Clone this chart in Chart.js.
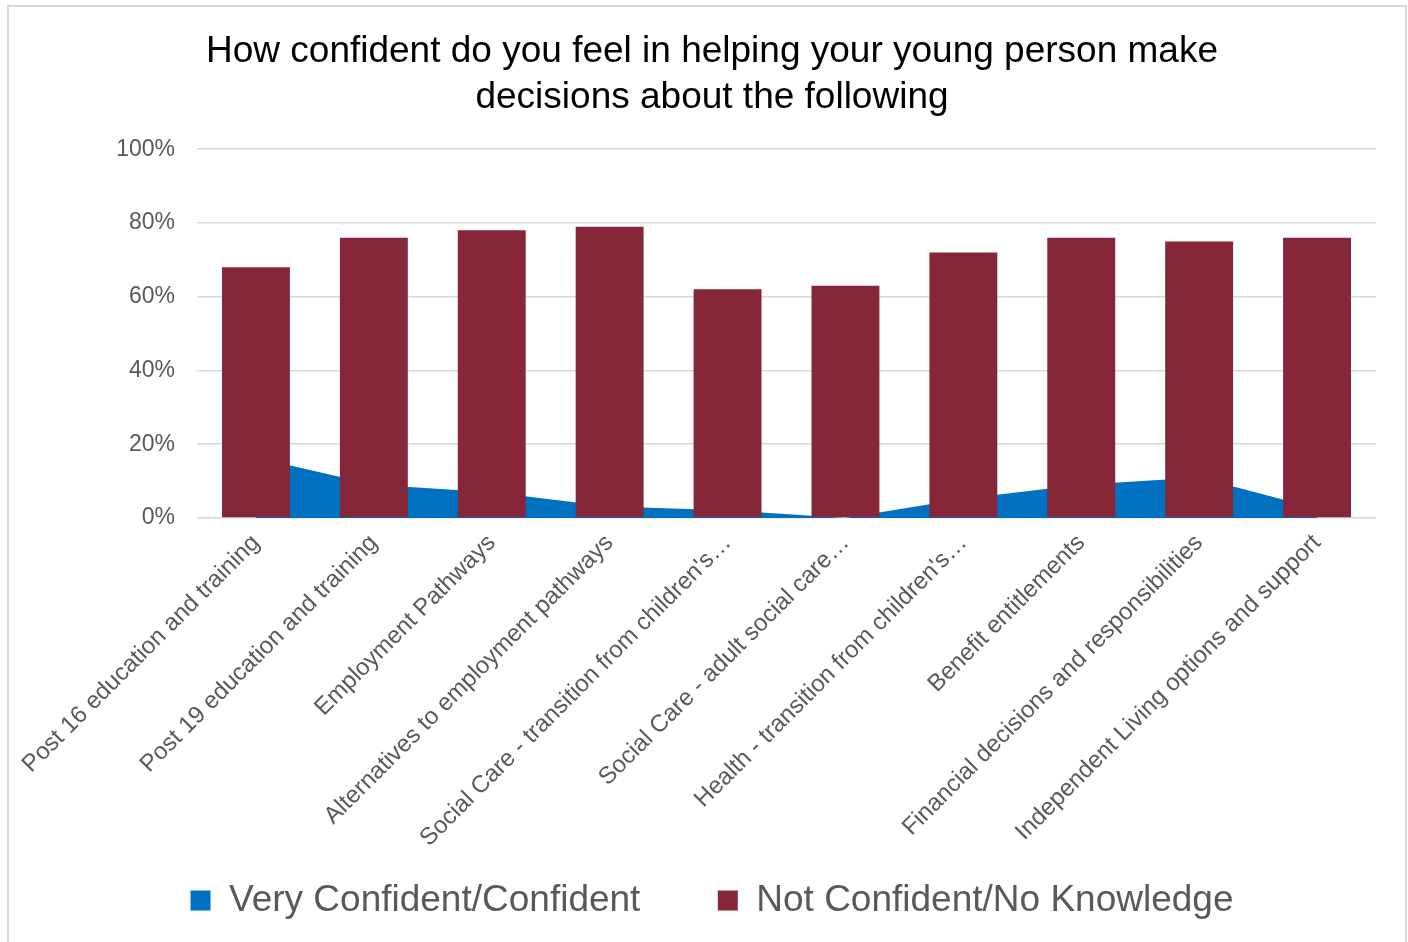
<!DOCTYPE html>
<html lang="en">
<head>
<meta charset="UTF-8">
<title>Confidence chart</title>
<script src="https://cdn.jsdelivr.net/npm/chart.js"></script>
<style>
  body { margin: 0; background: #fff; }
  #box { position: absolute; left: 7px; top: 5px; width: 1396px; height: 945px; border: 2px solid #d9d9d9; }
</style>
</head>
<body>
<div id="box"><canvas id="chart" width="1396" height="945"></canvas></div>
<script>
// categories (long ones are cut like in the original)
const categories = [
  'Post 16 education and training',
  'Post 19 education and training',
  'Employment Pathways',
  'Alternatives to employment pathways',
  "Social Care - transition from children's…",
  'Social Care - adult social care…',
  "Health - transition from children's…",
  'Benefit entitlements',
  'Financial decisions and responsibilities',
  'Independent Living options and support'
];
const confident = [16.4, 9, 7, 3.1, 2.1, 0, 5.2, 9, 11, 2.6];
const notConfident = [68, 76, 78, 79, 62, 63, 72, 76, 75, 76];
const yTicks = [0, 20, 40, 60, 80, 100];

const grey = '#595959';
const font = 'Liberation Sans, Arial, sans-serif';

new Chart(document.getElementById('chart'), {
  data: {
    labels: categories,
    datasets: [{
      type: 'line',
      label: 'Very Confident/Confident',
      data: confident,
      backgroundColor: '#0070C0',
      borderColor: '#0070C0',
      borderWidth: 0,
      pointRadius: 0,
      fill: 'origin',
      tension: 0,
      order: 2
    }, {
      type: 'bar',
      label: 'Not Confident/No Knowledge',
      data: notConfident,
      backgroundColor: '#862639',
      categoryPercentage: 1,
      barPercentage: 0.576,
      order: 1
    }]
  },
  options: {
    responsive: false,
    animation: false,
    layout: { padding: { left: 39, right: 29, top: 0, bottom: 23 } },
    plugins: {
      title: {
        display: true,
        text: ['How confident do you feel in helping your young person make', 'decisions about the following'],
        color: '#000',
        font: { family: font, size: 37, weight: 'normal', lineHeight: 1.26 },
        padding: { top: 21, bottom: 28 }
      },
      legend: {
        position: 'bottom',
        labels: {
          color: grey,
          font: { family: font, size: 37 },
          boxWidth: 20,
          boxHeight: 20,
          padding: 26,
          sort: (a, b) => a.datasetIndex - b.datasetIndex,
          generateLabels: chart => {
            const items = Chart.defaults.plugins.legend.labels.generateLabels(chart);
            // wider gap between the two entries, as in the original
            items.forEach(it => { if (it.datasetIndex === 0) it.text += '     '; });
            return items;
          }
        }
      },
      tooltip: { enabled: false }
    },
    scales: {
      x: {
        grid: { display: false },
        border: { display: false },
        ticks: {
          color: grey,
          font: { family: font, size: 24 },
          maxRotation: 45,
          minRotation: 45,
          autoSkip: false
        },
        afterFit: s => { s.height = 338; }
      },
      y: {
        min: 0,
        max: 100,
        afterBuildTicks: s => { s.ticks = yTicks.map(v => ({ value: v })); },
        grid: { color: '#d9d9d9', lineWidth: 1.5, drawTicks: false },
        border: { display: false },
        ticks: {
          color: grey,
          font: { family: font, size: 23 },
          padding: 22,
          callback: v => v + '%'
        },
        afterFit: s => { s.width = 149; }
      }
    }
  }
});
</script>
</body>
</html>
